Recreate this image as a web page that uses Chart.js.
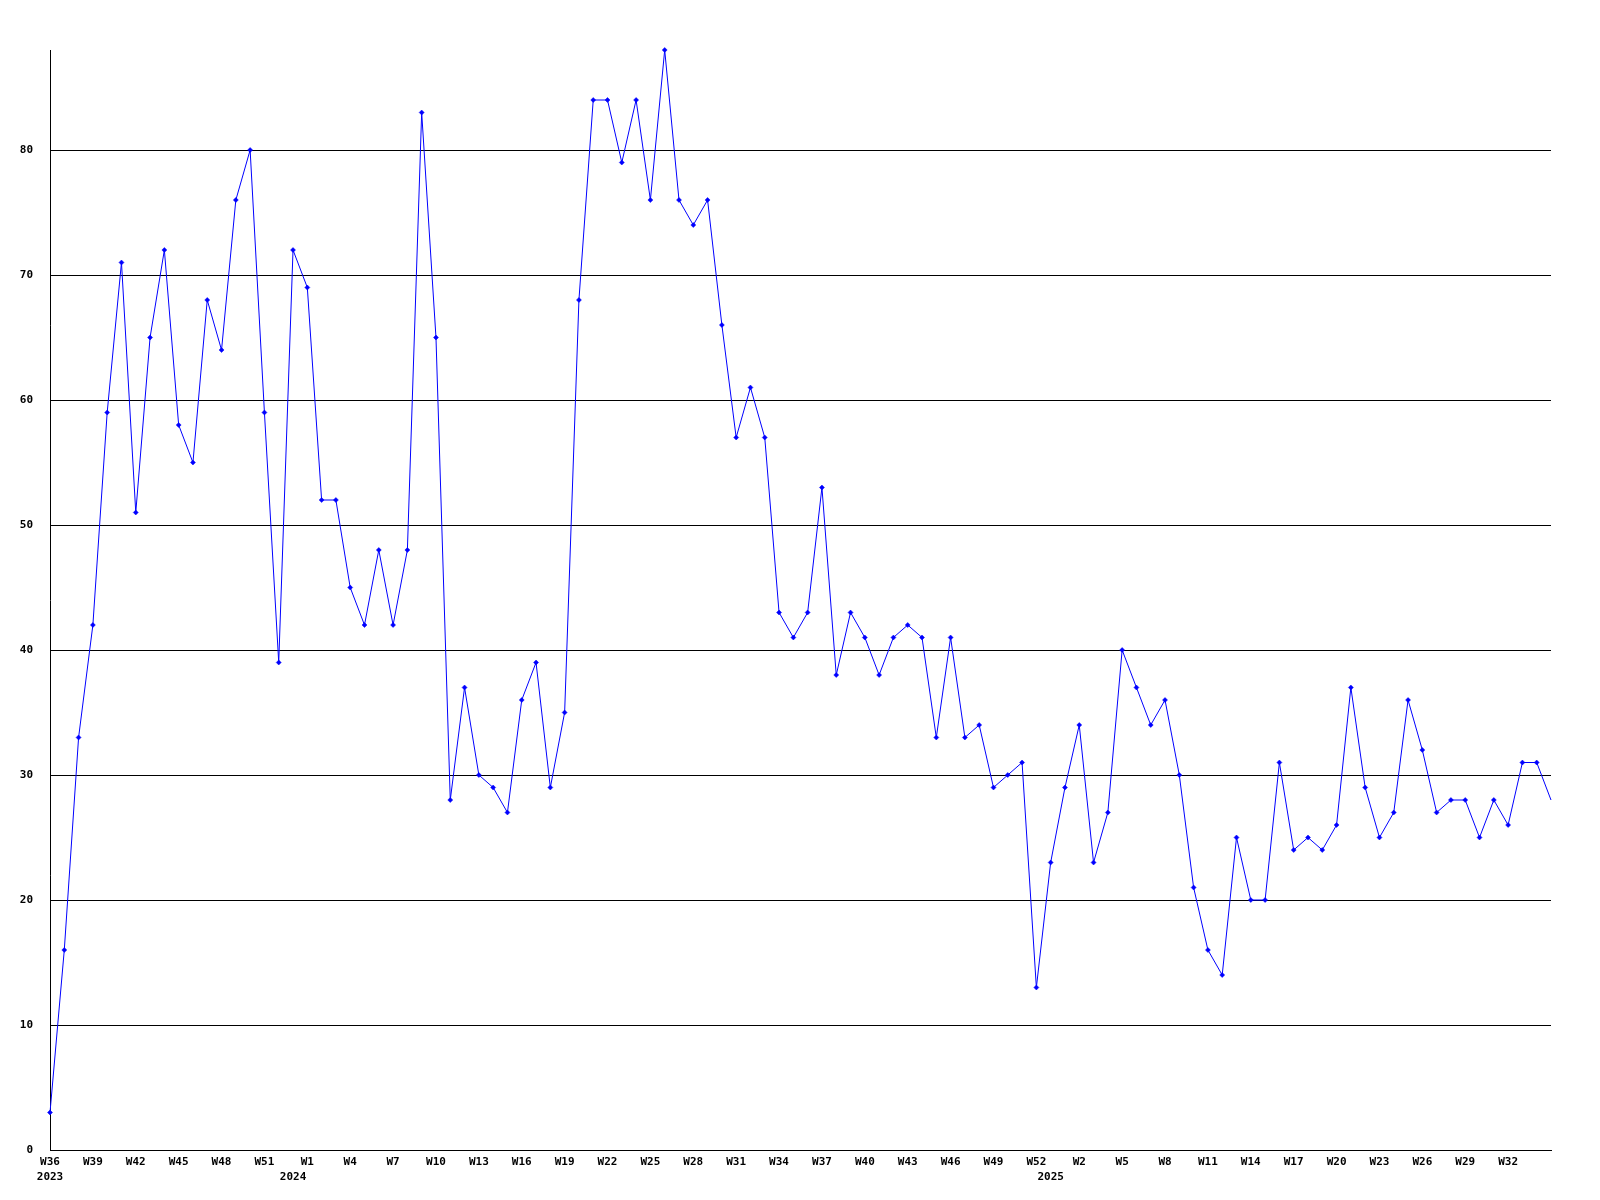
<!DOCTYPE html>
<html>
<head>
<meta charset="utf-8">
<script src="https://cdn.jsdelivr.net/npm/chart.js@4.4.1/dist/chart.umd.min.js"></script>
<style>
  html, body { margin: 0; padding: 0; background: #fff; }
  #wrap { width: 1600px; height: 1200px; }
</style>
</head>
<body>
<div id="wrap"><canvas id="weekly"></canvas></div>
<script>
// week labels: 2023 W36..W53, 2024 W1..W53, 2025 W1..W35
const weeks2023 = ['W36','W37','W38','W39','W40','W41','W42','W43','W44','W45','W46','W47','W48','W49','W50','W51','W52','W53'];
const weeks2024 = ['W1','W2','W3','W4','W5','W6','W7','W8','W9','W10','W11','W12','W13','W14','W15','W16','W17','W18','W19','W20',
  'W21','W22','W23','W24','W25','W26','W27','W28','W29','W30','W31','W32','W33','W34','W35','W36','W37','W38','W39','W40',
  'W41','W42','W43','W44','W45','W46','W47','W48','W49','W50','W51','W52','W53'];
const weeks2025 = ['W1','W2','W3','W4','W5','W6','W7','W8','W9','W10','W11','W12','W13','W14','W15','W16','W17','W18','W19','W20',
  'W21','W22','W23','W24','W25','W26','W27','W28','W29','W30','W31','W32','W33','W34','W35'];
const weeks = weeks2023.concat(weeks2024, weeks2025);

// year shown under the axis at these category indices
const yearLabels = { 0: '2023', 17: '2024', 70: '2025' };
const labelEvery = 3;

const counts = [
  3, 16, 33, 42, 59, 71, 51, 65, 72, 58, 55, 68, 64, 76, 80, 59, 39, 72,
  69, 52, 52, 45, 42, 48, 42, 48, 83, 65, 28, 37, 30, 29, 27, 36, 39, 29, 35, 68,
  84, 84, 79, 84, 76, 88, 76, 74, 76, 66, 57, 61, 57, 43, 41, 43, 53, 38, 43, 41,
  38, 41, 42, 41, 33, 41, 33, 34, 29, 30, 31, 13, 23,
  29, 34, 23, 27, 40, 37, 34, 36, 30, 21, 16, 14, 25, 20, 20, 31, 24, 25, 24, 26,
  37, 29, 25, 27, 36, 32, 27, 28, 28, 25, 28, 26, 31, 31, 28
];

const yTicks = [0, 10, 20, 30, 40, 50, 60, 70, 80];

const tickFont = { family: 'DejaVu Sans Mono', size: 11, weight: 'bold', lineHeight: 1.35 };

const weekly = document.getElementById('weekly');

new Chart(weekly, {
  type: 'line',
  data: {
    labels: weeks,
    datasets: [{
      data: counts,
      borderColor: '#0000ff',
      backgroundColor: '#0000ff',
      borderWidth: 1,
      tension: 0,
      clip: false,
      pointStyle: 'rectRot',
      pointRadius: ctx => ctx.dataIndex === counts.length - 1 ? 0 : 2.5,
      pointBorderWidth: 0.5
    }]
  },
  options: {
    responsive: true,
    maintainAspectRatio: false,
    animation: false,
    layout: { padding: { top: 50, right: 49, left: 0, bottom: 0 } },
    plugins: {
      legend: { display: false },
      tooltip: { enabled: false }
    },
    scales: {
      x: {
        grid: { display: false, drawTicks: false },
        border: { display: true, color: '#000', width: 1 },
        afterFit: scale => { scale.height = 50; },
        ticks: {
          autoSkip: false,
          maxRotation: 0,
          minRotation: 0,
          padding: 5,
          color: '#000',
          font: tickFont,
          callback: function (value, index) {
            const wk = (index % labelEvery === 0 && index < weeks.length - 1) ? weeks[index] : '';
            const yr = yearLabels[index];
            return yr ? [wk, yr] : wk;
          }
        }
      },
      y: {
        min: 0,
        max: 88,
        afterFit: scale => { scale.width = 50; },
        afterBuildTicks: scale => {
          scale.ticks = yTicks.map(v => ({ value: v }));
        },
        grid: { color: '#000', lineWidth: 1, drawTicks: false },
        border: { display: true, color: '#000', width: 1 },
        ticks: {
          padding: 17,
          color: '#000',
          font: tickFont
        }
      }
    }
  }
});
</script>
</body>
</html>
